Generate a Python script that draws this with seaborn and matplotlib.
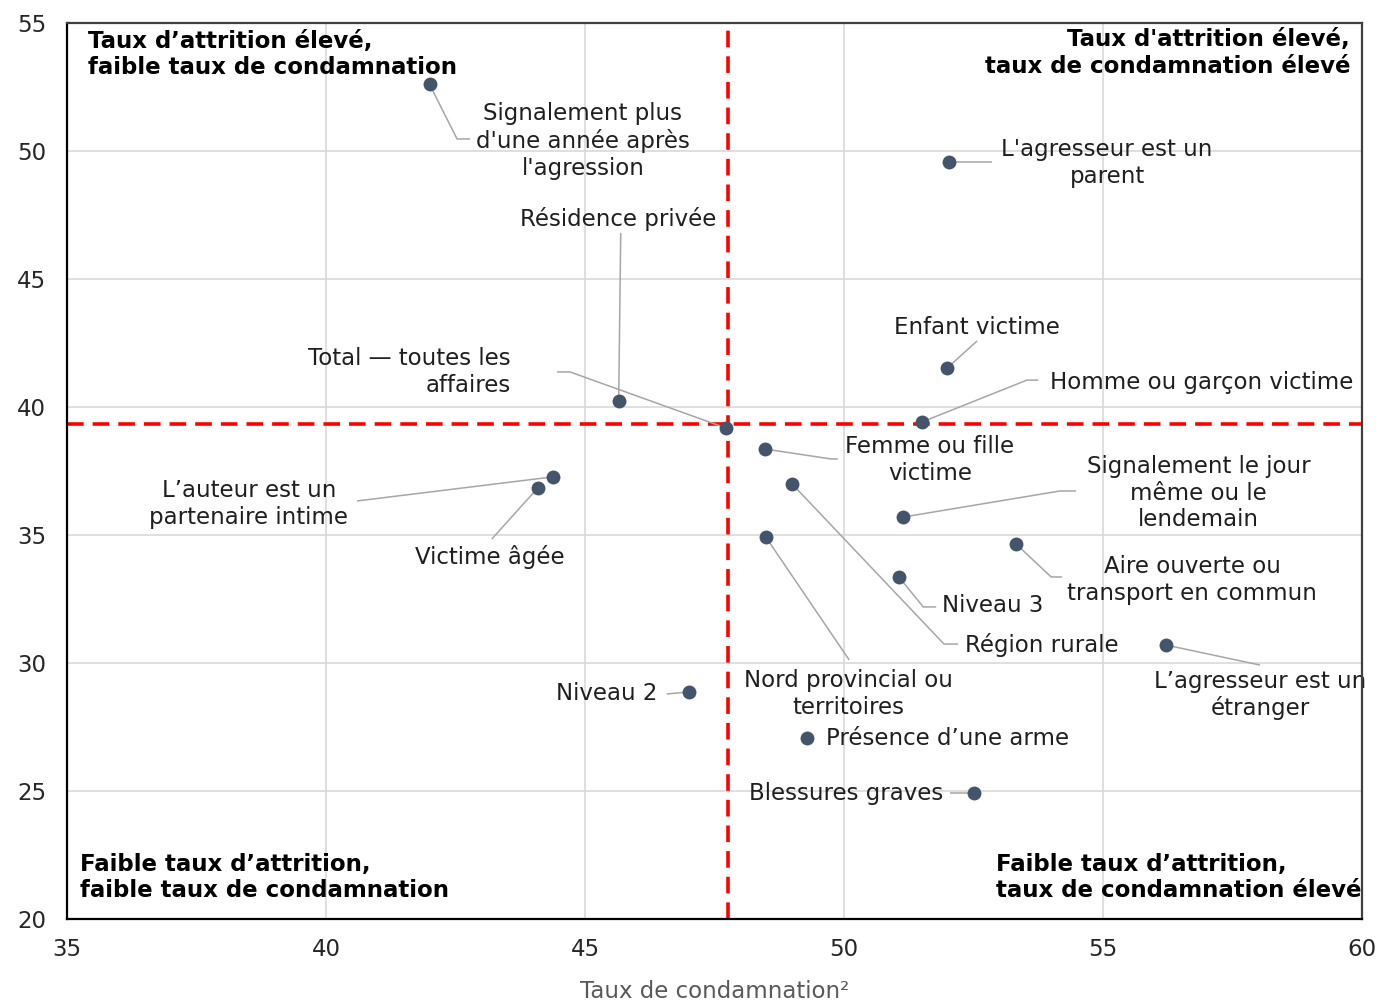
import matplotlib
matplotlib.use("Agg")
import matplotlib.pyplot as plt
import seaborn as sns
import pandas as pd

# ---------------- data ----------------
categories = [
    "Signalement plus d'une année après l'agression",
    "Résidence privée",
    "Total — toutes les affaires",
    "L'agresseur est un parent",
    "Enfant victime",
    "Homme ou garçon victime",
    "Femme ou fille victime",
    "Signalement le jour même ou le lendemain",
    "Aire ouverte ou transport en commun",
    "Niveau 3",
    "Région rurale",
    "Nord provincial ou territoires",
    "L’agresseur est un étranger",
    "Niveau 2",
    "Présence d’une arme",
    "Blessures graves",
    "L’auteur est un partenaire intime",
    "Victime âgée",
]
conviction_rate = [42.0, 45.65, 47.72, 52.03, 51.99, 51.5, 48.47, 51.14, 53.32,
                   51.06, 49.0, 48.49, 56.22, 47.01, 49.29, 52.51, 44.38, 44.09]
attrition_rate = [52.6, 40.25, 39.18, 49.57, 41.52, 39.41, 38.36, 35.7, 34.65,
                  33.36, 36.99, 34.92, 30.7, 28.87, 27.07, 24.92, 37.27, 36.84]
labels = [
    "Signalement plus\nd'une année après\nl'agression",
    "Résidence privée",
    "Total — toutes les\naffaires",
    "L'agresseur est un\nparent",
    "Enfant victime",
    "Homme ou garçon victime",
    "Femme ou fille\nvictime",
    "Signalement le jour\nmême ou le\nlendemain",
    "Aire ouverte ou\ntransport en commun",
    "Niveau 3",
    "Région rurale",
    "Nord provincial ou\nterritoires",
    "L’agresseur est un\nétranger",
    "Niveau 2",
    "Présence d’une arme",
    "Blessures graves",
    "L’auteur est un\npartenaire intime",
    "Victime âgée",
]
ref_conviction = 47.77   # vertical dashed reference line
ref_attrition = 39.32    # horizontal dashed reference line
x_ticks = [35, 40, 45, 50, 55, 60]
y_ticks = [20, 25, 30, 35, 40, 45, 50, 55]
x_label = "Taux de condamnation²"
quadrant_titles = [
    "Taux d’attrition élevé,\nfaible taux de condamnation",
    "Taux d'attrition élevé,\ntaux de condamnation élevé",
    "Faible taux d’attrition,\nfaible taux de condamnation",
    "Faible taux d’attrition,\ntaux de condamnation élevé",
]

# ---------------- label layout (text x, text y, ha, elbow, leader end) ----------------
layout = [
    (44.96, 50.39, "center", (42.53, 50.47), (42.78, 50.47)),
    (45.64, 47.34, "center", None, (45.69, 46.80)),
    (43.57, 41.37, "right", (44.71, 41.37), (44.46, 41.37)),
    (55.08, 49.53, "center", None, (52.86, 49.57)),
    (52.57, 43.12, "center", None, (52.57, 42.58)),
    (53.98, 40.94, "left", (53.53, 41.05), (53.75, 41.05)),
    (51.66, 37.93, "center", (49.75, 37.97), (49.88, 37.97)),
    (56.85, 36.64, "center", (54.17, 36.72), (54.48, 36.72)),
    (56.72, 33.24, "center", (54.00, 33.36), (54.21, 33.36)),
    (51.89, 32.23, "left", (51.53, 32.19), (51.78, 32.19)),
    (52.34, 30.70, "left", (51.93, 30.74), (52.20, 30.74)),
    (50.08, 28.79, "center", None, (50.10, 30.12)),
    (58.03, 28.75, "center", None, (58.03, 29.92)),
    (46.39, 28.79, "right", None, (46.58, 28.79)),
    (49.65, 27.07, "left", None, None),
    (51.91, 24.92, "right", None, (52.05, 24.92)),
    (38.51, 36.21, "center", None, (40.60, 36.33)),
    (43.17, 34.14, "center", None, (43.20, 34.84)),
]
quadrant_layout = [
    (35.41, 53.77, "left"),
    (59.77, 53.83, "right"),
    (35.25, 21.62, "left"),
    (52.93, 21.62, "left"),
]

df = pd.DataFrame({"categorie": categories,
                   "condamnation": conviction_rate,
                   "attrition": attrition_rate})

sns.set_theme(style="white")
plt.rcParams["font.family"] = ["DejaVu Sans"]

fig = plt.figure(figsize=(13.77, 10.05), dpi=100)
ax = fig.add_axes([67 / 1377, 1 - 919 / 1005, (1362 - 67) / 1377, (919 - 23) / 1005])

FS = 16.5
text_color = "#1f1f1f"
lead_color = "#a6a6a6"

# grid
ax.set_xlim(35, 60)
ax.set_ylim(20, 55)
ax.set_xticks(x_ticks)
ax.set_yticks(y_ticks)
ax.grid(True, color="#d9d9d9", linewidth=1.2, zorder=0)
ax.set_axisbelow(True)

# reference lines
ax.axvline(ref_conviction, color="#ff0000", linewidth=2.6,
           linestyle=(0, (4.6, 2.5)), zorder=2)
ax.axhline(ref_attrition, color="#ff0000", linewidth=2.6,
           linestyle=(0, (4.6, 2.5)), zorder=2)

# leader lines
for (tx, ty, ha, elbow, end), px, py in zip(layout, conviction_rate, attrition_rate):
    if end is None:
        continue
    xs, ys = [px], [py]
    if elbow is not None:
        xs.append(elbow[0]); ys.append(elbow[1])
    xs.append(end[0]); ys.append(end[1])
    ax.plot(xs, ys, color=lead_color, linewidth=1.1, zorder=3, solid_capstyle="butt")

# points
sns.scatterplot(data=df, x="condamnation", y="attrition", ax=ax,
                color="#44546a", s=100, edgecolor="#44546a", linewidth=0,
                zorder=4, legend=False)

# labels
for (tx, ty, ha, elbow, end), lab in zip(layout, labels):
    ax.text(tx, ty, lab, ha=ha, va="center", fontsize=FS, color=text_color,
            multialignment=("right" if ha == "right" else "center"),
            linespacing=1.2, zorder=5, clip_on=False)

# quadrant titles
for (qx, qy, ha), title in zip(quadrant_layout, quadrant_titles):
    ax.text(qx, qy, title, ha=ha, va="center", fontsize=FS, fontweight="bold",
            color="#000000", multialignment=ha, linespacing=1.2, zorder=5,
            clip_on=False)

# axes styling
ax.tick_params(axis="both", length=0, labelsize=FS, colors="#262626")
ax.tick_params(axis="x", pad=14)
ax.tick_params(axis="y", pad=15)
ax.set_xlabel(x_label, fontsize=FS, color="#595959", labelpad=13)
ax.set_ylabel("")
for side in ["left", "bottom"]:
    ax.spines[side].set_color("#000000")
    ax.spines[side].set_linewidth(1.6)
for side in ["top", "right"]:
    ax.spines[side].set_color("#404040")
    ax.spines[side].set_linewidth(1.6)
for sp in ax.spines.values():
    sp.set_zorder(6)

fig.savefig("out.png", dpi=100)
